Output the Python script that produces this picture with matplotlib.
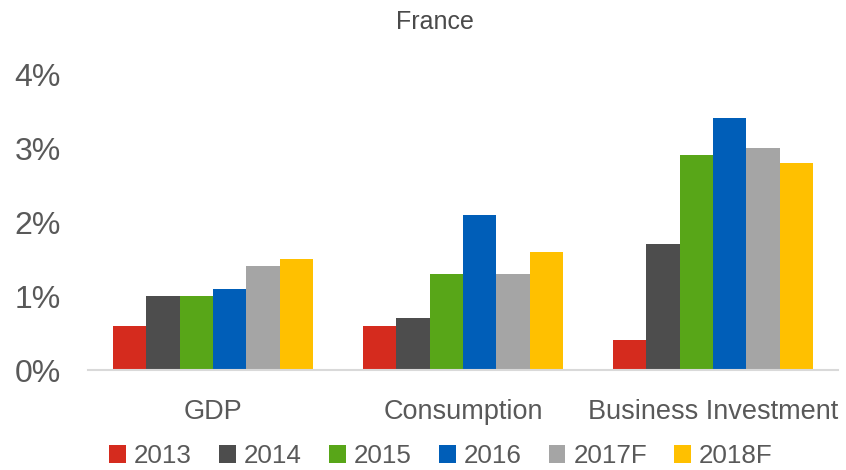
import numpy as np
import matplotlib
matplotlib.use("Agg")
import matplotlib.pyplot as plt
from matplotlib import font_manager

# data
categories = ["GDP", "Consumption", "Business Investment"]
years = ["2013", "2014", "2015", "2016", "2017F", "2018F"]
values_2013 = [0.6, 0.6, 0.4]
values_2014 = [1.0, 0.7, 1.7]
values_2015 = [1.0, 1.3, 2.9]
values_2016 = [1.1, 2.1, 3.4]
values_2017f = [1.4, 1.3, 3.0]
values_2018f = [1.5, 1.6, 2.8]
series = [values_2013, values_2014, values_2015, values_2016, values_2017f, values_2018f]
colors = ["#D52B1E", "#4D4D4D", "#58A618", "#005EB8", "#A5A5A5", "#FFC000"]

names = {f.name for f in font_manager.fontManager.ttflist}
family = "Liberation Sans Narrow" if "Liberation Sans Narrow" in names else "Liberation Sans"
plt.rcParams["font.family"] = [family, "DejaVu Sans"]
text_color = "#595959"

fig = plt.figure(figsize=(8.46, 4.70), dpi=100)
ax = fig.add_axes([88 / 846, 100 / 470, 750 / 846, 296 / 470])

x = np.arange(len(categories))
width = 0.8 / len(series)
for i, (vals, c, lab) in enumerate(zip(series, colors, years)):
    ax.bar(x - 0.4 + width * (i + 0.5), vals, width, color=c, label=lab)

ax.set_xlim(-0.5, len(categories) - 0.5)
ax.set_ylim(0, 4)
ax.set_yticks([0, 1, 2, 3, 4])
ax.set_yticklabels(["%d%%" % v for v in range(5)])
ax.set_xticks(x)
ax.set_xticklabels(categories)
ax.tick_params(axis="both", length=0, colors=text_color)
ax.tick_params(axis="x", pad=21, labelsize=19.5)
ax.tick_params(axis="y", pad=53, labelsize=23)
for lbl in ax.get_yticklabels():
    lbl.set_horizontalalignment("left")
for s in ["top", "right", "left"]:
    ax.spines[s].set_visible(False)
ax.spines["bottom"].set_color("#D9D9D9")
ax.spines["bottom"].set_linewidth(1.5)

fig.text(435 / 846, 1 - 22 / 470, "France", ha="center", va="center",
         fontsize=18, fontweight="medium", color="#4A4A4A")

leg = fig.legend(loc="center", bbox_to_anchor=(441 / 846, 1 - 456 / 470), ncol=6,
                 frameon=False, fontsize=18.7, handlelength=0.65, handleheight=0.65,
                 handletextpad=0.3, columnspacing=1.05, labelcolor=text_color)

fig.savefig("out.png", dpi=100)
